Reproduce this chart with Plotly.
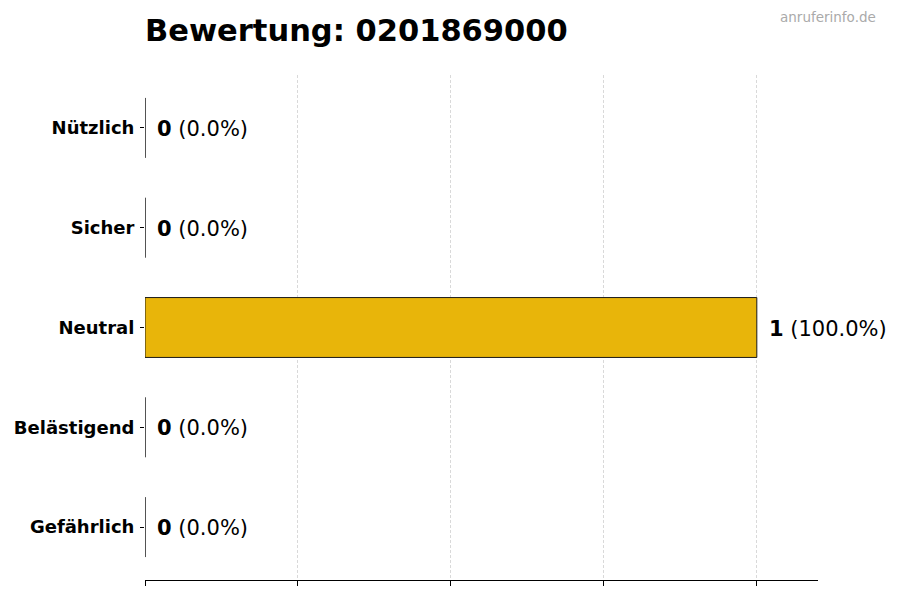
import plotly.graph_objects as go

categories = ["Gefährlich", "Belästigend", "Neutral", "Sicher", "Nützlich"]
counts = [0, 0, 1, 0, 0]
percents = [0.0, 0.0, 100.0, 0.0, 0.0]
title_text = "Bewertung: 0201869000"
watermark = "anruferinfo.de"
x_ticks = [0, 0.25, 0.5, 0.75, 1.0]

FONT = "DejaVu Sans"
OFF = 8  # page body offset

L, R, T, B = 145 - OFF, 90, 75 - OFF, 28
W, H = 900, 600
pw = W - L - R
ph = H - T - B

fig = go.Figure()
fig.add_trace(go.Bar(
    x=counts,
    y=categories,
    orientation="h",
    width=0.6,
    marker=dict(color="#E8B50A", line=dict(color="#1a1a1a", width=1)),
    hoverinfo="skip",
))

for c, n, p in zip(categories, counts, percents):
    fig.add_annotation(
        x=n, y=c, xref="x", yref="y",
        text=f"<b>{n}</b> ({p:.1f}%)",
        showarrow=False, xanchor="left", yanchor="middle",
        xshift=10, yshift=-1,
        font=dict(family=FONT, size=21, color="#000000"),
    )

fig.add_annotation(
    x=(878 - OFF - L) / pw, y=(H - B - (17 - OFF)) / ph,
    xref="paper", yref="paper",
    text=watermark, showarrow=False,
    xanchor="right", yanchor="middle",
    font=dict(family=FONT, size=13.5, color="#aaaaaa"),
)

fig.update_layout(
    width=W, height=H,
    margin=dict(l=L, r=R, t=T, b=B, autoexpand=False),
    paper_bgcolor="white", plot_bgcolor="white",
    showlegend=False,
    title=dict(
        text=f"<b>{title_text}</b>",
        x=(145 - OFF) / W, xref="container", xanchor="left",
        y=1 - (30 - OFF) / H, yref="container", yanchor="middle",
        font=dict(family=FONT, size=30.5, color="#000000"),
    ),
    xaxis=dict(
        range=[0, 1.1],
        tickvals=x_ticks,
        showticklabels=False,
        ticks="outside", ticklen=5, tickcolor="#000000", tickwidth=1,
        showline=True, linecolor="#000000", linewidth=1,
        showgrid=True, gridcolor="#d9d9d9", griddash="3px,2px", gridwidth=1,
        zeroline=False,
        fixedrange=True,
        automargin=False,
    ),
    yaxis=dict(
        range=[-0.53, 4.53],
        categoryorder="array", categoryarray=categories,
        tickvals=categories,
        ticktext=[f"<b>{c}</b>" for c in categories],
        ticks="outside", ticklen=4, tickcolor="#000000",
        showline=False, showgrid=False, zeroline=False,
        tickfont=dict(family=FONT, size=18, color="#000000"),
        ticklabelstandoff=2,
        automargin=False,
    ),
)

fig.write_html("out.html")
